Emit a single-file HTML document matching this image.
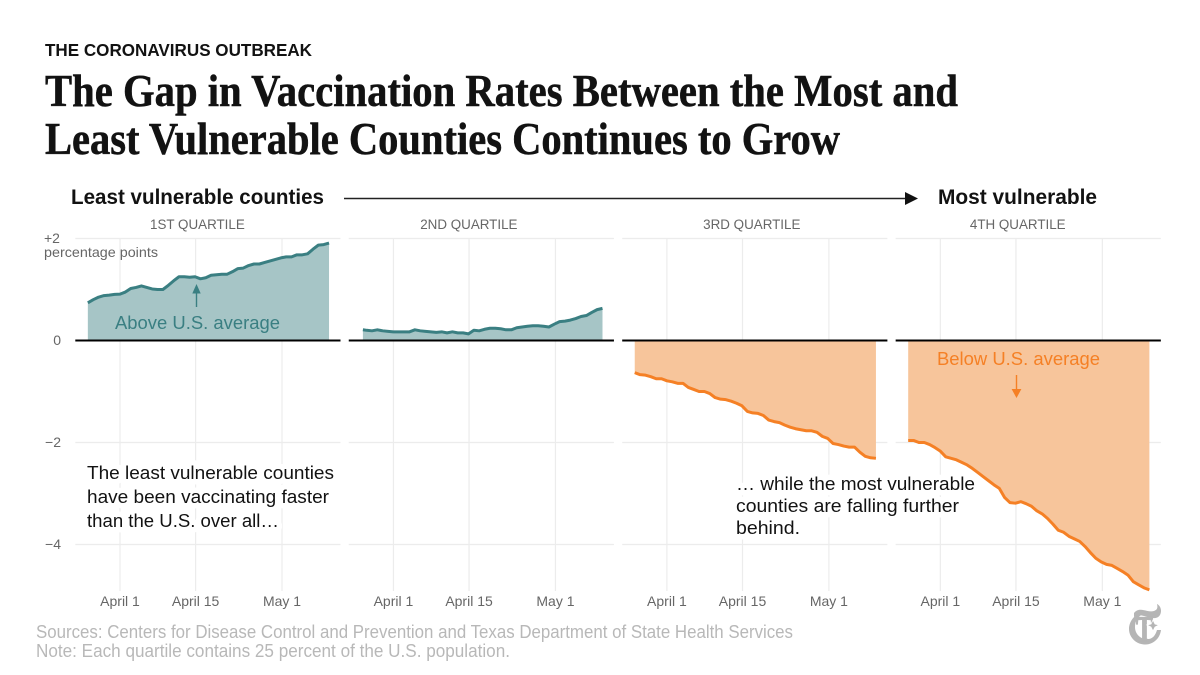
<!DOCTYPE html>
<html lang="en">
<head>
<meta charset="utf-8">
<title>The Gap in Vaccination Rates</title>
<style>
html,body{margin:0;padding:0;background:#fff;}
svg{display:block;font-family:"Liberation Sans",sans-serif;}
.title{font-family:"Liberation Serif",serif;font-weight:700;font-size:45px;fill:#121212;stroke:#121212;stroke-width:0.5px;}
.hdr{font-weight:700;font-size:21px;fill:#121212;}
.q{font-size:13.4px;fill:#666;text-anchor:middle;}
.yl{font-size:14px;fill:#666;}
.note{font-size:18.5px;fill:#121212;paint-order:stroke;stroke:#fff;stroke-width:11px;stroke-linejoin:round;}
.src{font-size:18px;fill:#b8b8b8;}
</style>
</head>
<body>
<svg id="chart" xmlns="http://www.w3.org/2000/svg" width="1200" height="675" viewBox="0 0 1200 675">
  <rect width="1200" height="675" fill="#fff"/>
  <text x="45" y="56" font-size="17.5" font-weight="700" fill="#121212" textLength="267" lengthAdjust="spacingAndGlyphs">THE CORONAVIRUS OUTBREAK</text>
  <text class="title" x="45" y="106" textLength="913" lengthAdjust="spacingAndGlyphs">The Gap in Vaccination Rates Between the Most and</text>
  <text class="title" x="45" y="154" textLength="795" lengthAdjust="spacingAndGlyphs">Least Vulnerable Counties Continues to Grow</text>

  <text class="hdr" x="71" y="204" textLength="253" lengthAdjust="spacingAndGlyphs">Least vulnerable counties</text>
  <line x1="344" y1="198.5" x2="908" y2="198.5" stroke="#222" stroke-width="1.4"/>
  <polygon points="905,192 918,198.5 905,205" fill="#111"/>
  <text class="hdr" x="938" y="204" textLength="159" lengthAdjust="spacingAndGlyphs">Most vulnerable</text>

  <g id="grid"></g>
  <g id="marks"></g>
  <g id="axis"></g>

  <text class="yl" x="44" y="257" textLength="114" lengthAdjust="spacingAndGlyphs">percentage points</text>

  <line x1="196.5" y1="307" x2="196.5" y2="292" stroke="#3a7f82" stroke-width="1.4"/>
  <polygon points="196.5,284 192.3,293.5 200.7,293.5" fill="#3a7f82"/>
  <text x="115" y="329" font-size="18.5" fill="#3a7f82" textLength="165" lengthAdjust="spacingAndGlyphs">Above U.S. average</text>

  <text x="937" y="365" font-size="18.5" fill="#f58025" textLength="163" lengthAdjust="spacingAndGlyphs">Below U.S. average</text>
  <line x1="1016.5" y1="375" x2="1016.5" y2="391" stroke="#f58025" stroke-width="1.4"/>
  <polygon points="1016.5,398 1011.6,389 1021.4,389" fill="#f58025"/>

  <g>
    <text class="note" x="87" y="479" textLength="247" lengthAdjust="spacingAndGlyphs">The least vulnerable counties</text>
    <text class="note" x="87" y="503" textLength="242" lengthAdjust="spacingAndGlyphs">have been vaccinating faster</text>
    <text class="note" x="87" y="527" textLength="192" lengthAdjust="spacingAndGlyphs">than the U.S. over all…</text>
  </g>
  <g>
    <text class="note" x="736" y="490" textLength="239" lengthAdjust="spacingAndGlyphs">… while the most vulnerable</text>
    <text class="note" x="736" y="512" textLength="223" lengthAdjust="spacingAndGlyphs">counties are falling further</text>
    <text class="note" x="736" y="534" textLength="64" lengthAdjust="spacingAndGlyphs">behind.</text>
  </g>

  <text class="src" x="36" y="638" textLength="757" lengthAdjust="spacingAndGlyphs">Sources: Centers for Disease Control and Prevention and Texas Department of State Health Services</text>
  <text class="src" x="36" y="657" textLength="474" lengthAdjust="spacingAndGlyphs">Note: Each quartile contains 25 percent of the U.S. population.</text>

  <g fill="#b5b5b5">
    <path d="M1146 611 C1135 613 1129 621 1129 629 C1129 638 1137 645 1146 644.5 C1154 644 1160 638 1161 630 L1157 630 C1155 637 1151 640 1145 639 C1139 638 1135 633 1135 627 C1135 620 1139 615 1146 613 Z"/>
    <path d="M1134 613 C1140 606 1147 613 1154 611 C1157 610 1158 608 1157 604 C1161 606 1162 611 1160 615 C1157 620 1150 618 1144 616 C1140 615 1137 615 1134 617 Z"/>
    <text x="1136" y="641" font-family="'Liberation Serif',serif" font-weight="700" font-size="36" stroke="#b5b5b5" stroke-width="1.2" textLength="17" lengthAdjust="spacingAndGlyphs">T</text>
    <polygon points="1153,620 1155,624 1159,625 1155,627 1153,631 1151,627 1147,625 1151,624" fill="#b5b5b5" stroke="#fff" stroke-width="0.8"/>
  </g>
</svg>

<script>
const quartileLabels = ["1ST QUARTILE", "2ND QUARTILE", "3RD QUARTILE", "4TH QUARTILE"];
const tickLabels = ["April 1", "April 15", "May 1"];
const tickDays = [0, 14, 30];
const yTickValues = [2, 0, -2, -4];
const yTickLabels = ["+2", "0", "\u22122", "\u22124"];
const firstDay = -6;
const panelStartDays = [-6, -5.7, -6, -6];

const quartile1 = [0.74,0.80,0.85,0.88,0.89,0.905,0.91,0.95,1.02,1.04,1.07,1.04,1.01,1.00,1.00,1.08,1.17,1.25,1.25,1.24,1.25,1.21,1.23,1.28,1.29,1.30,1.30,1.35,1.41,1.42,1.47,1.50,1.50,1.53,1.56,1.59,1.62,1.64,1.64,1.68,1.68,1.70,1.79,1.87,1.88,1.91];
const quartile2 = [0.21,0.20,0.19,0.21,0.19,0.18,0.17,0.17,0.17,0.17,0.21,0.19,0.18,0.17,0.16,0.17,0.15,0.17,0.15,0.15,0.13,0.20,0.19,0.22,0.24,0.24,0.23,0.21,0.21,0.25,0.265,0.28,0.29,0.29,0.28,0.265,0.32,0.37,0.38,0.40,0.43,0.47,0.49,0.55,0.605,0.63];
const quartile3 = [-0.63,-0.67,-0.68,-0.71,-0.75,-0.75,-0.79,-0.81,-0.84,-0.84,-0.92,-0.96,-1.00,-1.00,-1.04,-1.12,-1.15,-1.16,-1.19,-1.23,-1.28,-1.39,-1.42,-1.43,-1.47,-1.56,-1.59,-1.61,-1.66,-1.70,-1.73,-1.75,-1.77,-1.77,-1.80,-1.88,-1.92,-2.02,-2.04,-2.07,-2.09,-2.09,-2.19,-2.27,-2.30,-2.31];
const quartile4 = [-1.96,-1.96,-2.00,-2.00,-2.04,-2.10,-2.17,-2.28,-2.31,-2.34,-2.39,-2.44,-2.51,-2.59,-2.67,-2.75,-2.83,-2.90,-3.08,-3.18,-3.19,-3.16,-3.20,-3.25,-3.34,-3.40,-3.49,-3.60,-3.72,-3.76,-3.84,-3.89,-3.94,-4.04,-4.16,-4.27,-4.34,-4.39,-4.41,-4.47,-4.53,-4.60,-4.73,-4.79,-4.85,-4.89];
const quartileSeries = [quartile1, quartile2, quartile3, quartile4];

const NS = "http://www.w3.org/2000/svg";
const gridLayer = document.getElementById("grid");
const marksLayer = document.getElementById("marks");
const axisLayer = document.getElementById("axis");

function yScale(v) { return 340.5 - v * 51; }
function xScale(panel, day) { return 120 + panel * 273.45 + day * 5.36; }
function panelLeft(panel) { return 75.3 + panel * 273.45; }
function panelRight(panel) { return 340.5 + panel * 273.45; }
function make(tag, parent, attrs) {
  const el = document.createElementNS(NS, tag);
  for (const k in attrs) el.setAttribute(k, attrs[k]);
  parent.appendChild(el);
  return el;
}

quartileSeries.forEach(function (values, p) {
  yTickValues.forEach(function (v) {
    if (v === 0) return;
    const h = make("line", gridLayer, { x1: panelLeft(p), x2: panelRight(p), y1: yScale(v), y2: yScale(v), stroke: "#ececec", "stroke-width": 1.2 });
    
    
  });
  tickDays.forEach(function (d, t) {
    const tickX = 120 + p * 273.45 + d * 5.4;
    const g = make("line", gridLayer, { x1: tickX, x2: tickX, y1: yScale(2), y2: 591, stroke: "#ececec", "stroke-width": 1.2 });
    
    
    const lab = make("text", axisLayer, { x: tickX, y: 606, "font-size": 14, fill: "#666", "text-anchor": "middle" });
    lab.textContent = tickLabels[t];
    
    
  });

  const positive = values[0] >= 0;
  const startDay = panelStartDays[p];
  const pts = values.map(function (v, i) { return xScale(p, Math.max(firstDay + i, startDay)).toFixed(2) + "," + yScale(v).toFixed(2); });
  const base0 = xScale(p, startDay).toFixed(2) + "," + yScale(0);
  const base1 = xScale(p, firstDay + values.length - 1).toFixed(2) + "," + yScale(0);

  const area = make("polygon", marksLayer, { points: base0 + " " + pts.join(" ") + " " + base1, fill: positive ? "#a6c5c6" : "#f7c59b" });
  
  

  const line = make("polyline", marksLayer, { points: pts.join(" "), fill: "none", stroke: positive ? "#3a7f82" : "#f58025", "stroke-width": 3, "stroke-linejoin": "round" });
  
  

  const zero = make("line", marksLayer, { x1: panelLeft(p), x2: panelRight(p), y1: yScale(0), y2: yScale(0), stroke: "#000", "stroke-width": 2 });
  
  

  const qCenter = (panelLeft(p) + panelRight(p)) / 2;
  const q = make("text", axisLayer, { x: qCenter - (p === 0 ? 10.5 : p === 1 ? 12.5 : p === 2 ? 3 : 10.5), y: 229, class: "q" });
  q.textContent = quartileLabels[p];
  
  
});

yTickValues.forEach(function (v, i) {
  const t = make("text", axisLayer, { x: i === 0 ? 44 : 61, y: yScale(v) + 4.5, class: "yl", "text-anchor": i === 0 ? "start" : "end" });
  t.textContent = yTickLabels[i];
  
  
});
</script>
</body>
</html>
